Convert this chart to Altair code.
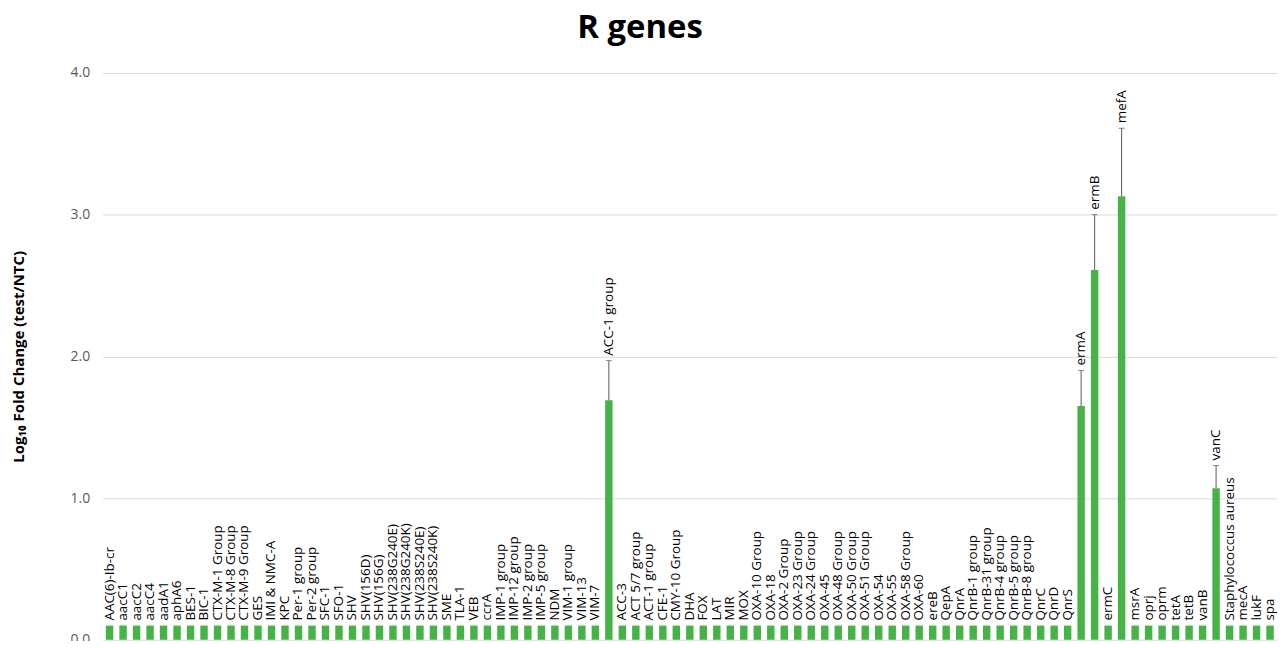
import altair as alt
import pandas as pd

genes = [
    "AAC(6)-Ib-cr", "aacC1", "aacC2", "aacC4", "aadA1", "aphA6", "BES-1", "BIC-1",
    "CTX-M-1 Group", "CTX-M-8 Group", "CTX-M-9 Group", "GES", "IMI & NMC-A", "KPC",
    "Per-1 group", "Per-2 group", "SFC-1", "SFO-1", "SHV", "SHV(156D)", "SHV(156G)",
    "SHV(238G240E)", "SHV(238G240K)", "SHV(238S240E)", "SHV(238S240K)", "SME", "TLA-1",
    "VEB", "ccrA", "IMP-1 group", "IMP-12 group", "IMP-2 group", "IMP-5 group", "NDM",
    "VIM-1 group", "VIM-13", "VIM-7", "ACC-1 group", "ACC-3", "ACT 5/7 group",
    "ACT-1 group", "CFE-1", "CMY-10 Group", "DHA", "FOX", "LAT", "MIR", "MOX",
    "OXA-10 Group", "OXA-18", "OXA-2 Group", "OXA-23 Group", "OXA-24 Group", "OXA-45",
    "OXA-48 Group", "OXA-50 Group", "OXA-51 Group", "OXA-54", "OXA-55", "OXA-58 Group",
    "OXA-60", "ereB", "QepA", "QnrA", "QnrB-1 group", "QnrB-31 group", "QnrB-4 group",
    "QnrB-5 group", "QnrB-8 group", "QnrC", "QnrD", "QnrS", "ermA", "ermB", "ermC",
    "mefA", "msrA", "oprj", "oprm", "tetA", "tetB", "vanB", "vanC",
    "Staphylococcus aureus", "mecA", "lukF", "spa",
]

big_values = {"ACC-1 group": 1.69, "ermA": 1.65, "ermB": 2.61, "mefA": 3.13, "vanC": 1.07}
big_errors = {"ACC-1 group": 0.28, "ermA": 0.25, "ermB": 0.39, "mefA": 0.48, "vanC": 0.16}

values = [big_values.get(g, 0.1) for g in genes]
errors = [big_errors.get(g, 0.0) for g in genes]

df = pd.DataFrame({"gene": genes, "value": values, "err": errors})
df["top"] = df["value"] + df["err"]

xenc = alt.X("gene:N", sort=None, axis=None,
             scale=alt.Scale(paddingInner=0.45, paddingOuter=0.24))

base = alt.Chart(df)

bars = base.mark_bar(color="#46b346").encode(
    x=xenc,
    y=alt.Y("value:Q",
            scale=alt.Scale(domain=[0, 4]),
            axis=alt.Axis(values=[0, 1, 2, 3, 4], format=".1f", tickSize=0, domain=False,
                          labelPadding=13, labelFontSize=14, labelColor="#595959",
                          labelFont="Open Sans", gridColor="#d9d9d9",
                          title="Log₁₀ Fold Change (test/NTC)", titleFont="Open Sans",
                          titleFontSize=15, titleFontWeight="bold", titleColor="#000000",
                          titlePadding=44)),
)

errdf = base.transform_filter("datum.err > 0")

err_rule = errdf.mark_rule(color="#595959", strokeWidth=1).encode(
    x=xenc, y="value:Q", y2="top:Q"
)
err_cap = errdf.mark_tick(color="#595959", thickness=1, size=6).encode(
    x=xenc, y="top:Q"
)

labels = base.mark_text(angle=270, align="left", baseline="middle", dx=5,
                        font="Open Sans", fontSize=13.5, color="#000000").encode(
    x=xenc, y="top:Q", text="gene:N"
)

chart = alt.layer(bars, err_rule, err_cap, labels).properties(
    width=1179,
    height=569,
    autosize=alt.AutoSizeParams(type="none"),
    padding={"left": 95, "top": 64, "right": 0, "bottom": 0},
    title=alt.TitleParams("R genes", font="Open Sans", fontSize=33, fontWeight="bold",
                          color="#000000", anchor="middle", dx=-50, offset=21),
).configure_view(stroke=None)

chart.save("out.html", embed_options={"renderer": "svg", "actions": False})
